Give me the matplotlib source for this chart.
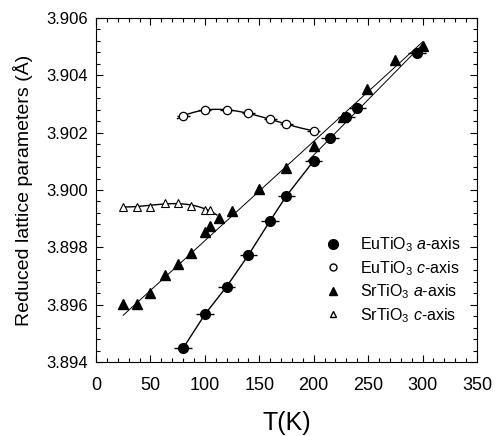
import numpy as np
import matplotlib
matplotlib.use("Agg")
import matplotlib.pyplot as plt
from matplotlib.lines import Line2D
from matplotlib.ticker import MultipleLocator

plt.rcParams['font.family'] = ['Liberation Sans', 'DejaVu Sans']
plt.rcParams['mathtext.fontset'] = 'custom'
plt.rcParams['mathtext.rm'] = 'Liberation Sans'
plt.rcParams['mathtext.it'] = 'Liberation Sans:italic'

# EuTiO3 a-axis (filled circles)
eu_a_T = [80, 100, 120, 140, 160, 175, 200, 215, 230, 240, 295]
eu_a = [3.89448, 3.89566, 3.89663, 3.89773, 3.89893, 3.89980, 3.90102,
        3.90183, 3.90254, 3.90287, 3.90479]
# EuTiO3 c-axis (open circles)
eu_c_T = [80, 100, 120, 140, 160, 175, 200]
eu_c = [3.90258, 3.90279, 3.90279, 3.90268, 3.90247, 3.90229, 3.90207]
# SrTiO3 a-axis (filled triangles)
sr_a_T = [25, 38, 50, 63, 75, 87, 100, 105, 113, 125, 150, 175, 200, 227,
          249, 275, 300]
sr_a = [3.89602, 3.89602, 3.89640, 3.89704, 3.89741, 3.89779, 3.89852,
        3.89875, 3.89901, 3.89928, 3.90002, 3.90078, 3.90153, 3.90254,
        3.90351, 3.90453, 3.90503]
# SrTiO3 c-axis (open triangles)
sr_c_T = [25, 38, 50, 63, 75, 87, 100, 105]
sr_c = [3.89942, 3.89942, 3.89942, 3.89956, 3.89956, 3.89944, 3.89930, 3.89930]

fig = plt.figure(figsize=(5.01, 4.36), dpi=100)
ax = fig.add_axes([0.1916, 0.1697, 0.7605, 0.789])

# lines
eu_a_T_arr = np.array(eu_a_T)
eu_a_arr = np.array(eu_a)
low = eu_a_T_arr <= 200
ax.plot(eu_a_T_arr[low], eu_a_arr[low], color='black', lw=1.0)
hi = eu_a_T_arr >= 200
p = np.polyfit(eu_a_T_arr[hi], eu_a_arr[hi], 1)
tt = np.linspace(195, 300, 50)
ax.plot(tt, np.polyval(p, tt), color='black', lw=0.7)

# linear fit of SrTiO3 a-axis, leaving out the lowest points and the transition region
sr_a_T_arr = np.array(sr_a_T)
sr_a_arr = np.array(sr_a)
m = (sr_a_T_arr >= 50) & ~((sr_a_T_arr > 95) & (sr_a_T_arr < 130))
p = np.polyfit(sr_a_T_arr[m], sr_a_arr[m], 1)
tt = np.linspace(25, 300, 50)
ax.plot(tt, np.polyval(p, tt), color='black', lw=0.7)

p = np.polyfit(eu_c_T, eu_c, 3)
tt = np.linspace(75, 205, 100)
ax.plot(tt, np.polyval(p, tt), color='black', lw=1.0)

p = np.polyfit(sr_c_T, sr_c, 3)
tt = np.linspace(25, 111, 100)
ax.plot(tt, np.polyval(p, tt), color='black', lw=1.0)

# markers with horizontal bars
ax.errorbar(eu_a_T, eu_a, xerr=8, fmt='o', color='black', ms=7, elinewidth=1.0,
            capsize=0)
ax.errorbar(eu_c_T, eu_c, xerr=6, fmt='o', mfc='white', mec='black', ecolor='black',
            ms=6, mew=0.9, elinewidth=1.0, capsize=0)
ax.plot(sr_a_T, sr_a, '^', color='black', ms=6.5, ls='none')
ax.plot(sr_c_T, sr_c, '^', mfc='white', mec='black', ms=6, mew=0.8, ls='none')

ax.set_xlim(0, 350)
ax.set_ylim(3.894, 3.906)
ax.xaxis.set_major_locator(MultipleLocator(50))
ax.xaxis.set_minor_locator(MultipleLocator(10))
ax.yaxis.set_major_locator(MultipleLocator(0.002))
ax.yaxis.set_minor_locator(MultipleLocator(0.0004))
ax.yaxis.set_major_formatter(matplotlib.ticker.FormatStrFormatter('%.3f'))
ax.tick_params(which='both', direction='in', top=True, right=True, width=0.8)
ax.tick_params(which='major', length=5)
ax.tick_params(which='minor', length=3)
ax.tick_params(axis='x', labelsize=13, pad=11)
ax.tick_params(axis='y', labelsize=12, pad=6)
for s in ax.spines.values():
    s.set_linewidth(0.8)

ax.set_xlabel('T(K)', fontsize=18, labelpad=12)
ax.set_ylabel('Reduced lattice parameters (Å)', fontsize=14, labelpad=9)

handles = [
    Line2D([], [], marker='o', color='black', ls='none', ms=7),
    Line2D([], [], marker='o', mfc='white', mec='black', ls='none', ms=5),
    Line2D([], [], marker='^', color='black', ls='none', ms=6),
    Line2D([], [], marker='^', mfc='white', mec='black', ls='none', ms=5),
]
labels = [r'EuTiO$_3$ $\mathit{a}$-axis', r'EuTiO$_3$ $\mathit{c}$-axis',
          r'SrTiO$_3$ $\mathit{a}$-axis', r'SrTiO$_3$ $\mathit{c}$-axis']
ax.legend(handles, labels, loc='upper left', bbox_to_anchor=(0.56, 0.41),
          frameon=False, fontsize=11.5, handletextpad=1.1, labelspacing=0.3,
          handlelength=1.2)

fig.savefig('out.png', dpi=100)
